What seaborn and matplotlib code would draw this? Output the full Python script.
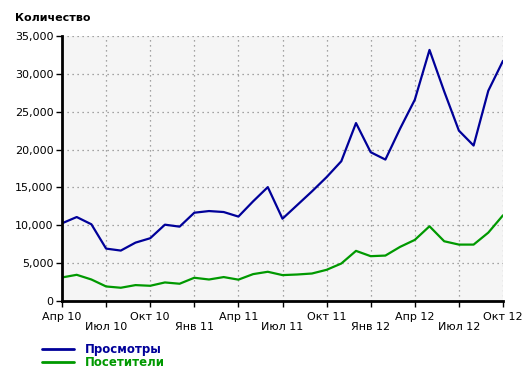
import matplotlib
matplotlib.use("Agg")
import matplotlib.pyplot as plt
import seaborn as sns
import pandas as pd
import numpy as np

months = ["Апр 10", "Май 10", "Июн 10", "Июл 10", "Авг 10", "Сен 10", "Окт 10", "Ноя 10", "Дек 10",
          "Янв 11", "Фев 11", "Мар 11", "Апр 11", "Май 11", "Июн 11", "Июл 11", "Авг 11", "Сен 11",
          "Окт 11", "Ноя 11", "Дек 11", "Янв 12", "Фев 12", "Мар 12", "Апр 12", "Май 12", "Июн 12",
          "Июл 12", "Авг 12", "Сен 12", "Окт 12"]

views = [10260, 11090, 10130, 6920, 6660, 7710, 8290, 10080, 9820,
         11660, 11880, 11750, 11150, 13160, 15040, 10870, 12670, 14470,
         16360, 18460, 23500, 19650, 18680, 22770, 26580, 33160, 27680,
         22500, 20530, 27770, 31720]

visitors = [3110, 3460, 2840, 1920, 1750, 2100, 2010, 2450, 2280,
            3070, 2840, 3160, 2820, 3550, 3860, 3420, 3500, 3630,
            4120, 4950, 6620, 5920, 6000, 7150, 8070, 9870, 7890,
            7450, 7450, 9030, 11320]

series_names = ["Просмотры", "Посетители"]
series_colors = ["#000099", "#009900"]

tick_idx = list(range(0, 31, 3))
tick_labels = [months[i] if k % 2 == 0 else "\n" + months[i] for k, i in enumerate(tick_idx)]

df = pd.DataFrame({
    "m": list(range(len(months))) * 2,
    "value": views + visitors,
    "series": [series_names[0]] * len(views) + [series_names[1]] * len(visitors),
})

sns.set_theme(style="white")
plt.rcParams["font.family"] = ["DejaVu Sans"]

fig = plt.figure(figsize=(5.28, 3.74), dpi=100)
ax = fig.add_axes([62 / 528, 1 - 301 / 374, (503 - 62) / 528, (301 - 36) / 374])
ax.set_facecolor("#f5f5f5")

sns.lineplot(data=df, x="m", y="value", hue="series", palette=series_colors,
             linewidth=1.6, ax=ax, legend=False)

ax.set_xlim(0, 30)
ax.set_ylim(0, 35000)
ax.set_xticks(tick_idx)
ax.set_xticklabels(tick_labels, fontsize=8, color="black", linespacing=1.0)
yt = list(range(0, 35001, 5000))
ax.set_yticks(yt)
ax.set_yticklabels([f"{v:,}" for v in yt], fontsize=8, color="black")
ax.tick_params(axis="both", which="both", length=4, width=1, color="black", pad=2,
               direction="out", bottom=True, left=True)
ax.tick_params(axis="x", pad=4)
ax.set_xlabel("")
ax.set_ylabel("")

ax.grid(True, color="#888888", linestyle=(0, (1, 3)), linewidth=0.9)
ax.set_axisbelow(True)
for s in ["top", "right"]:
    ax.spines[s].set_visible(False)
for s in ["left", "bottom"]:
    ax.spines[s].set_color("black")
    ax.spines[s].set_linewidth(2)

fig.text(15 / 528, 1 - 18 / 374, "Количество", fontsize=8, fontweight="bold",
         va="center", ha="left", color="black")

handles = [plt.Line2D([], [], color=c, linewidth=2) for c in series_colors]
fig.legend(handles, series_names, loc="upper left",
           bbox_to_anchor=(42 / 528, 1 - 343 / 374), frameon=False,
           handlelength=2.7, handletextpad=0.9, labelspacing=0.0,
           prop={"size": 8.5, "weight": "bold"}, labelcolor=series_colors,
           borderaxespad=0, borderpad=0)

fig.savefig("out.png", dpi=100, facecolor="white")
